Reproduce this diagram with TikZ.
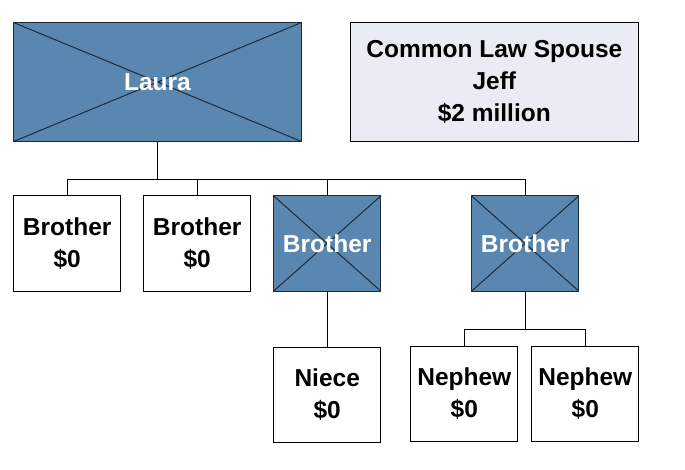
\documentclass[tikz,border=0pt]{standalone}
\usepackage{fontspec}
\setmainfont{Liberation Sans}
\usetikzlibrary{positioning}
\definecolor{heirblue}{HTML}{5A87AF}
\definecolor{spousegray}{HTML}{E9ECF4}
\definecolor{edgenavy}{HTML}{1C2B3A}
\tikzset{
person/.style={shape=rectangle, draw, line width=1pt, minimum width=107pt, minimum height=95pt, inner sep=0, align=center, font=\fontsize{24.5}{32}\selectfont\bfseries},
deceased/.style={person, fill=heirblue, draw=edgenavy, text=white,
  path picture={\draw [edgenavy, line width=1pt] (path picture bounding box.north west) -- (path picture bounding box.south east) (path picture bounding box.south west) -- (path picture bounding box.north east);}},
wide/.style={minimum width=288pt, minimum height=119pt},
link/.style={line width=1pt}}
\begin{document}
\begin{tikzpicture}[x=1pt, y=-1pt]
\useasboundingbox (0,0) rectangle (685,470);
\node [deceased, wide] at (157.5,82) (laura) {Laura};
\node [person, wide, fill=spousegray] at (494.3,82) (jeff) {Common Law Spouse\\Jeff\\\$2 million};
% siblings
\node [person] at (67.2,243.5) (b1) {Brother\\\$0};
\node [person, right=22pt of b1] (b2) {Brother\\\$0};
\node [deceased, right=22pt of b2] (b3) {Brother};
\node [deceased, right=90pt of b3] (b4) {Brother};
% next generation
\node [person, below=55pt of b3] (niece) {Niece\\\$0};
\node [person] at (464.3,394) (n1) {Nephew\\\$0};
\node [person, right=13pt of n1] (n2) {Nephew\\\$0};
\foreach \n in {b1,b2,b3,b4}
  \draw [link] (laura.south) |- ([yshift=16pt]\n.north) -- (\n.north);
\draw [link] (b3.south) -- (niece.north);
\foreach \n in {n1,n2}
  \draw [link] (b4.south) |- ([yshift=17pt]\n.north) -- (\n.north);
\end{tikzpicture}
\end{document}
